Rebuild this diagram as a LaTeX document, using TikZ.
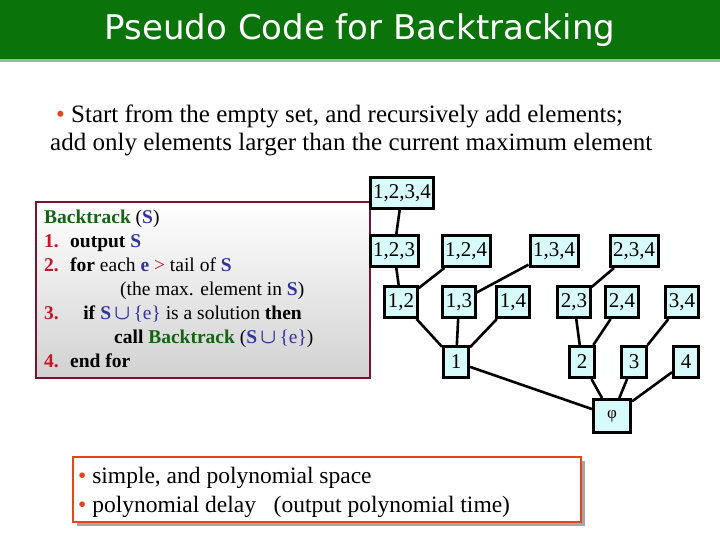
\documentclass[tikz,border=0pt]{standalone}
\usepackage{amsmath}
\usepackage{fontspec}
\setmainfont{Liberation Serif}
\newfontfamily\titlefont{DejaVu Sans}
\usetikzlibrary{backgrounds}
\definecolor{tgreen}{RGB}{10,115,10}
\definecolor{cgreen}{RGB}{20,100,20}
\definecolor{cblue}{RGB}{50,50,160}
\definecolor{cred}{RGB}{200,20,40}
\definecolor{maroon}{RGB}{120,20,50}
\definecolor{ncyan}{RGB}{215,250,250}
\definecolor{obox}{RGB}{225,70,30}
\newcommand{\bcup}{$\boldsymbol{\cup}$}
\tikzset{
 tn/.style={draw=black,line width=3pt,fill=ncyan,inner sep=3pt,minimum height=31pt,font=\fontsize{21}{21}\selectfont},
 te/.style={line width=2.6pt},
}
\begin{document}
\begin{tikzpicture}[x=1pt,y=-1pt]
\useasboundingbox (0,0) rectangle (720,540);
\node[tn] (n1234) at (402,193) {1,2,3,4};
\node[tn] (n123) at (394,251) {1,2,3};
\node[tn] (n124) at (466,251) {1,2,4};
\node[tn] (n134) at (554,251) {1,3,4};
\node[tn] (n234) at (634,251) {2,3,4};
\node[tn] (n12) at (401,302) {1,2};
\node[tn] (n13) at (459,302) {1,3};
\node[tn] (n14) at (513,302) {1,4};
\node[tn] (n23) at (574,302) {2,3};
\node[tn] (n24) at (622,302) {2,4};
\node[tn] (n34) at (682,302) {3,4};
\node[tn,minimum width=25pt] (n1) at (456,362) {1};
\node[tn,minimum width=25pt] (n2) at (582,362) {2};
\node[tn,minimum width=25pt] (n3) at (634,362) {3};
\node[tn,minimum width=25pt] (n4) at (686,362) {4};
\node[tn,minimum width=37pt,minimum height=33pt,font=\fontsize{17}{17}\selectfont] (phi) at (612,416) {φ};
\begin{scope}[on background layer]
\fill[white] (0,0) rectangle (720,540);
\fill[tgreen] (0,0) rectangle (720,59);
\fill[green!45!black!45!white] (0,59) rectangle (720,62);
\shade[top color=white,bottom color=black!18] (36,202) rectangle (370,378);
\draw[maroon,line width=2pt] (36,202) rectangle (370,378);
\foreach \a/\b in {n1234/n123,n123/n12,n124/n12,n134/n13,n234/n23,n12/n1,n13/n1,n14/n1,n23/n2,n24/n2,n34/n3,n1/phi,n2/phi,n3/phi,n4/phi}
 \draw[te] (\a) -- (\b);
\end{scope}
\node[text=white,font=\titlefont\fontsize{34}{34}\selectfont] (title) at (360,30) {Pseudo Code for Backtracking};
\node[anchor=north west,align=left,font=\fontsize{25}{28}\selectfont,inner sep=0] (intro) at (50,105)
 {\hspace*{6pt}\textcolor{obox}{\textbullet} Start from the empty set, and recursively add elements;\\
 add only elements larger than the current maximum element};
\node[anchor=north west,align=left,font=\fontsize{19.5}{24}\selectfont,inner sep=0] (code) at (44,210)
{\textbf{\textcolor{cgreen}{Backtrack}} (\textcolor{cblue}{\textbf{S}})\\
\textcolor{cred}{\textbf{1.}} \ \textbf{output \textcolor{cblue}{S}}\\
\textcolor{cred}{\textbf{2.}} \ \textbf{for} each \textcolor{cblue}{\textbf{e}} \textcolor{cred}{>} tail of \textcolor{cblue}{\textbf{S}}\\
\hspace*{76pt}(the max. element in \textcolor{cblue}{\textbf{S}})\\
\textcolor{cred}{\textbf{3.}} \hspace*{18pt}\textbf{if} \textcolor{cblue}{\textbf{S}\,\bcup\,\{e\}} is a solution \textbf{then}\\
\hspace*{70pt}\textbf{call \textcolor{cgreen}{Backtrack}} (\textcolor{cblue}{\textbf{S}\,\bcup\,\{e\}})\\
\textcolor{cred}{\textbf{4.}} \ \textbf{end for}};
\fill[black!35] (77,461) rectangle (585,526);
\draw[obox,line width=2.4pt,fill=white] (73,457) rectangle (581,522);
\node[anchor=north west,align=left,font=\fontsize{23.5}{29}\selectfont,inner sep=0] (notes) at (78,467)
 {\textcolor{obox}{\textbullet} simple, and polynomial space\\
 \textcolor{obox}{\textbullet} polynomial delay \ \ (output polynomial time)};
\end{tikzpicture}
\end{document}
